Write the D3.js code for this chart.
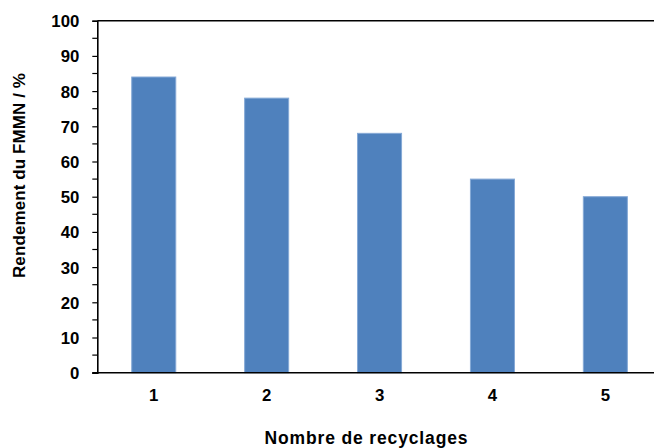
<!DOCTYPE html>
<html>
<head>
<meta charset="utf-8">
<script src="https://cdn.jsdelivr.net/npm/d3@7"></script>
<style>
  body { margin: 0; background: #fff; }
  text { font-family: "Liberation Sans", Arial, sans-serif; font-weight: bold; fill: #000; }
</style>
</head>
<body>
<svg id="chart" width="654" height="448"></svg>
<script>
// data
var cycles = ["1", "2", "3", "4", "5"];
var yields = [84, 78, 68, 55, 50];
var yTicks = [0, 10, 20, 30, 40, 50, 60, 70, 80, 90, 100];
var yMinorTicks = [5, 15, 25, 35, 45, 55, 65, 75, 85, 95];
var xTitle = "Nombre de recyclages";
var yTitle = "Rendement du FMMN / %";

var svg = d3.select("#chart"),
  margin = {top: 20.7, left: 97.3},
  plotBottom = 372.7,
  plotRight = 661.8;

var x = d3.scaleBand()
  .domain(cycles)
  .range([margin.left, plotRight])
  .paddingInner(0.61)
  .paddingOuter(0.305);

var y = d3.scaleLinear()
  .domain([0, 100])
  .range([plotBottom, margin.top]);

// bars
svg.append("g")
  .selectAll("rect")
  .data(yields)
  .enter().append("rect")
  .attr("x", (d, i) => x(cycles[i]))
  .attr("y", d => y(d))
  .attr("width", x.bandwidth())
  .attr("height", d => y(0) - y(d))
  .style("fill", "#4f81bd")
  .style("stroke", "#85a9d6")
  .style("stroke-width", 1);

// top border of the plot area
svg.append("line")
  .attr("x1", margin.left).attr("x2", plotRight)
  .attr("y1", y(100)).attr("y2", y(100))
  .style("stroke", "#000").style("stroke-width", 1.5);

// y axis with minor ticks
var yAxis = svg.append("g")
  .attr("transform", "translate(" + margin.left + ",0)");

yAxis.selectAll(".minor")
  .data(yMinorTicks)
  .enter().append("line")
  .attr("x1", -5).attr("x2", 0)
  .attr("y1", d => y(d)).attr("y2", d => y(d))
  .style("stroke", "#000").style("stroke-width", 1.2);

yAxis.call(d3.axisLeft(y).tickValues(yTicks).tickSize(5).tickPadding(13))
  .call(g => g.select(".domain").attr("stroke-width", 1.6))
  .call(g => g.selectAll(".tick line").attr("stroke-width", 1.2))
  .selectAll("text")
  .style("font-size", "16.8px")
  .attr("dy", "0.36em");

yAxis.selectAll("text").attr("fill", "#000");

// x axis: plain baseline, labels without ticks
var xAxis = svg.append("g")
  .attr("transform", "translate(0," + plotBottom + ")");

xAxis.call(d3.axisBottom(x).tickSize(0).tickPadding(16))
  .call(g => g.select(".domain").remove())
  .selectAll("text")
  .style("font-size", "16.8px")
  .attr("fill", "#000");

xAxis.append("line")
  .attr("x1", margin.left - 5).attr("x2", plotRight)
  .attr("y1", 0).attr("y2", 0)
  .style("stroke", "#000").style("stroke-width", 1.5);

// axis titles
svg.append("text")
  .attr("x", 366)
  .attr("y", 444)
  .attr("text-anchor", "middle")
  .attr("textLength", 203)
  .attr("lengthAdjust", "spacing")
  .style("font-size", "17.5px")
  .text(xTitle);

svg.append("text")
  .attr("transform", "translate(25,175.5) rotate(-90)")
  .attr("text-anchor", "middle")
  .attr("textLength", 205)
  .attr("lengthAdjust", "spacing")
  .style("font-size", "17px")
  .text(yTitle);
</script>
</body>
</html>
